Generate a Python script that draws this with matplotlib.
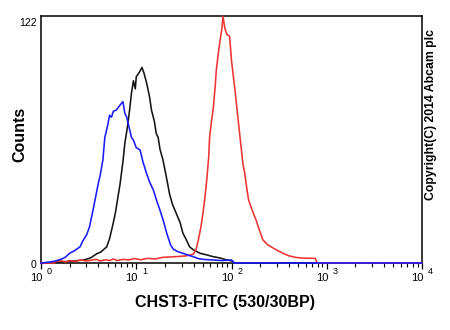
import numpy as np
import matplotlib
matplotlib.use("Agg")
import matplotlib.pyplot as plt
from matplotlib.transforms import blended_transform_factory

plt.rcParams['font.family'] = ['Liberation Sans', 'DejaVu Sans']

# ---- data (log10 of fluorescence, counts) ----
blue_log = [0.00, 0.10, 0.15, 0.22, 0.26, 0.30, 0.35, 0.41, 0.44, 0.48, 0.51, 0.55, 0.60, 0.62,
            0.65, 0.67, 0.70, 0.72, 0.74, 0.76, 0.79, 0.83, 0.86, 0.88, 0.90, 0.92, 0.95, 0.97,
            1.00, 1.04, 1.07, 1.11, 1.14, 1.18, 1.22, 1.25, 1.29, 1.32, 1.36, 1.39, 1.44, 1.49,
            1.55, 1.60, 1.65, 1.70, 1.80, 1.90, 2.00, 2.03, 4.00]
blue_cnt = [0, 0.5, 1, 2, 3, 4.8, 6, 8, 11, 14, 18, 27, 39, 43,
            51, 62, 68, 73, 72, 75, 75.5, 78, 79.7, 74, 72, 68, 62, 60.7,
            57, 55.8, 50, 44, 40, 36, 30, 26, 20, 14.7, 9, 6.8, 5.5, 4.8,
            3.8, 3.1, 2.2, 1.8, 1.5, 1.2, 1.5, 0, 0]

black_log = [0.00, 0.20, 0.34, 0.45, 0.52, 0.58, 0.63, 0.69, 0.72, 0.75, 0.78, 0.83, 0.86, 0.88,
             0.91, 0.93, 0.95, 0.97, 0.99, 1.00, 1.03, 1.06, 1.08, 1.11, 1.14, 1.16, 1.19, 1.21,
             1.23, 1.25, 1.28, 1.31, 1.35, 1.38, 1.42, 1.46, 1.49, 1.52, 1.56, 1.60, 1.67, 1.74,
             1.81, 1.88, 1.95, 2.01, 2.03, 4.00]
black_cnt = [0, 0.5, 1, 1.5, 2.5, 4.4, 5.5, 8, 12, 18, 24.5, 39, 50, 59,
             68, 75.5, 84, 90, 86, 92, 94, 96.6, 94, 88.7, 82, 75.5, 70, 64,
             62, 56, 51, 44, 34, 29, 24.5, 20, 14.7, 12, 8, 6.5, 4.8, 4,
             3.1, 2.5, 1.5, 1, 0, 0]

red_log = [0.00, 0.14, 0.16, 0.22, 0.26, 0.30, 0.36, 0.42, 0.47, 0.52, 0.58, 0.62, 0.68, 0.72,
           0.76, 0.80, 0.86, 0.92, 0.98, 1.05, 1.12, 1.20, 1.28, 1.36, 1.44, 1.52, 1.57, 1.60,
           1.63, 1.65, 1.68, 1.70, 1.72, 1.74, 1.76, 1.77, 1.79, 1.81, 1.83, 1.84, 1.86, 1.88,
           1.90, 1.91, 1.93, 1.95, 1.98, 2.00, 2.02, 2.04, 2.07, 2.09, 2.12, 2.14, 2.16, 2.18,
           2.21, 2.23, 2.26, 2.28, 2.31, 2.33, 2.38, 2.44, 2.49, 2.54, 2.60, 2.67, 2.75, 2.88,
           2.90, 4.00]
red_cnt = [0, 0, 1, 1, 0.5, 1.2, 0.8, 1.5, 1, 1.3, 1.8, 1, 1.6, 1.2,
           2, 1.2, 1.8, 1.5, 2.2, 1.6, 2.3, 2.0, 2.8, 3, 3.2, 3.5, 4, 4.4,
           7, 11, 18, 24.5, 32, 41, 52, 62, 70, 77, 88, 95, 103, 110,
           116, 122, 116, 113, 112, 100, 92, 84, 70.6, 62, 49, 44, 37, 31,
           27, 24.5, 21, 18, 14, 11.4, 9, 7.3, 6, 4.8, 3.6, 2.8, 2.4, 2.3,
           0, 0]

decades = [0, 1, 2, 3, 4]
y_max = 122

W, H = 450, 330
fig = plt.figure(figsize=(W / 100, H / 100), dpi=100)
ax = fig.add_axes([41 / W, (H - 263) / H, (422 - 41) / W, (263 - 16) / H])

lw = 1.15
ax.plot(10 ** np.array(black_log), black_cnt, color='#151515', lw=lw, clip_on=False, zorder=3)
ax.plot(10 ** np.array(red_log), red_cnt, color='#ee3333', lw=lw, clip_on=False, zorder=3)
ax.plot(10 ** np.array(blue_log), blue_cnt, color='#1a1aff', lw=lw, clip_on=False, zorder=4)

ax.set_xscale('log')
ax.set_xlim(10 ** decades[0], 10 ** decades[-1])
ax.set_ylim(0, y_max)

for s in ax.spines.values():
    s.set_linewidth(1.1)
    s.set_color('black')

ax.set_yticks([])
ax.set_xticks([10 ** d for d in decades])
ax.set_xticklabels([])
ax.xaxis.set_minor_locator(matplotlib.ticker.LogLocator(base=10, subs=np.arange(2, 10)))
ax.xaxis.set_minor_formatter(matplotlib.ticker.NullFormatter())
ax.tick_params(axis='x', which='major', direction='out', length=4.5, width=0.9, color='black')
ax.tick_params(axis='x', which='minor', direction='out', length=3.2, width=0.8, color='black')

tr = blended_transform_factory(ax.transData, ax.transAxes)
for d in decades:
    ax.annotate('10', xy=(10 ** d, 0), xycoords=tr, xytext=(1.5, -15),
                textcoords='offset pixels', ha='right', va='center', fontsize=8)
    ax.annotate(str(d), xy=(10 ** d, 0), xycoords=tr, xytext=(6, -8.5),
                textcoords='offset pixels', ha='left', va='center', fontsize=6.5)

# y labels
fig.text(37 / W, 1 - 18 / H, str(y_max), ha='right', va='top', fontsize=7.5)
fig.text(36 / W, 1 - 260.5 / H, '0', ha='right', va='top', fontsize=7.5)

fig.text(225 / W, 1 - 302 / H, 'CHST3-FITC (530/30BP)', ha='center', va='center',
         fontsize=11.5, fontweight='bold')
fig.text(20 / W, 1 - 134 / H, 'Counts', ha='center', va='center', rotation=90,
         fontsize=11.5, fontweight='bold')
fig.text(431 / W, 1 - 114 / H, 'Copyright(C) 2014 Abcam plc', ha='center', va='center',
         rotation=90, fontsize=8.8, fontweight='bold')

fig.savefig('out.png', dpi=100)
